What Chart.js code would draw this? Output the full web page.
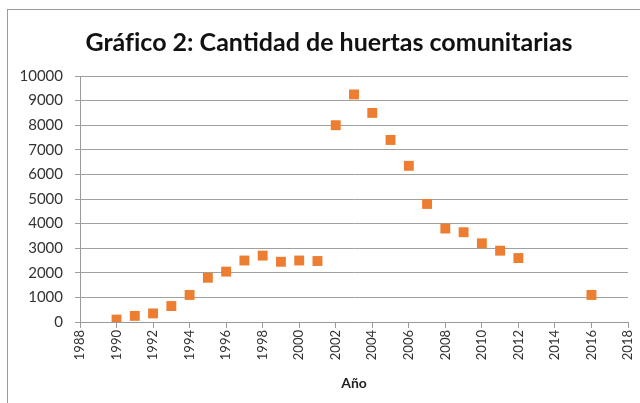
<!DOCTYPE html>
<html>
<head>
<meta charset="utf-8">
<script src="https://cdn.jsdelivr.net/npm/chart.js@4"></script>
<style>
  html, body { margin: 0; padding: 0; background: #fff; }
  #wrap { position: relative; width: 640px; height: 403px; overflow: hidden; }
  #frame { position: absolute; left: 7px; top: 9px; width: 700px; height: 500px; border: 1px solid #9a9a9a; box-sizing: border-box; }
  #chart { position: absolute; left: 18px; top: 0; }
</style>
</head>
<body>
<div id="wrap">
  <div id="frame"></div>
  <canvas id="chart" width="622" height="403"></canvas>
</div>
<script>
// Años y cantidad de huertas
const years = [1990, 1991, 1992, 1993, 1994, 1995, 1996, 1997, 1998, 1999, 2000, 2001,
               2002, 2003, 2004, 2005, 2006, 2007, 2008, 2009, 2010, 2011, 2012, 2016];
const huertas = [100, 250, 350, 650, 1100, 1800, 2050, 2500, 2700, 2450, 2500, 2480,
                 8000, 9250, 8500, 7400, 6350, 4800, 3800, 3650, 3200, 2900, 2600, 1100];

// ZWNJ keeps "fi" from turning into a ligature
const titleText = 'Gráf\u200Cico 2: Cantidad de huertas comunitarias';
const xTitle = 'Año';

const points = years.map((y, i) => ({ x: y, y: huertas[i] }));

const ctx = document.getElementById('chart').getContext('2d');
new Chart(ctx, {
    type: 'scatter',
    data: {
        datasets: [{
            label: 'Huertas',
            data: points,
            pointStyle: 'rect',
            pointRadius: 7,
            pointHoverRadius: 7,
            backgroundColor: '#ed7d31',
            borderColor: '#ed7d31',
            borderWidth: 0
        }]
    },
    options: {
        responsive: false,
        animation: false,
        layout: { padding: { left: 0, right: 0, top: 0, bottom: 11 } },
        plugins: {
            legend: { display: false },
            tooltip: { enabled: false },
            title: {
                display: true,
                text: titleText,
                color: '#111',
                font: { family: 'Lato', size: 25, weight: 'bold' },
                padding: { top: 28, bottom: 18 }
            }
        },
        scales: {
            x: {
                type: 'linear',
                min: 1988,
                max: 2018,
                border: { display: true, color: '#9a9a9a' },
                grid: { display: true, drawOnChartArea: false, drawTicks: true, tickLength: 6, color: '#9a9a9a' },
                ticks: {
                    stepSize: 2,
                    minRotation: 90,
                    maxRotation: 90,
                    padding: 2,
                    color: '#333',
                    font: { family: 'Lato', size: 13 },
                    callback: v => String(v)
                },
                title: {
                    display: true,
                    text: xTitle,
                    color: '#222',
                    font: { family: 'Lato', size: 14, weight: 'bold' },
                    padding: { top: 13, bottom: 0 }
                },
                afterFit: s => { s.paddingLeft = 0; s.paddingRight = 12; }
            },
            y: {
                min: 0,
                max: 10000,
                border: { display: true, color: '#9a9a9a' },
                grid: { color: '#a0a0a0', tickLength: 5 },
                ticks: {
                    stepSize: 1000,
                    padding: 12,
                    color: '#333',
                    font: { family: 'Lato', size: 15 },
                    callback: v => String(v)
                },
                afterFit: s => { s.width = 62; }
            }
        }
    }
});
</script>
</body>
</html>
